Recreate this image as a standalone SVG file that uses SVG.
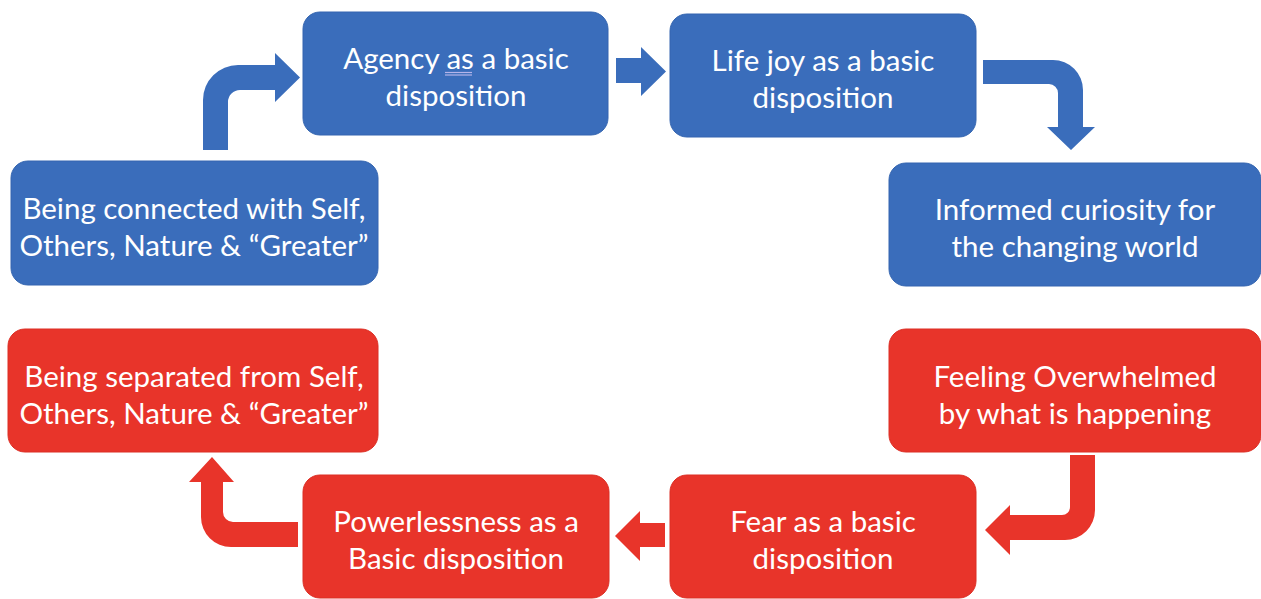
<svg xmlns="http://www.w3.org/2000/svg" width="1261" height="599" viewBox="0 0 1261 599">
<style>
.b{fill:#3a6dbb;stroke:#3465b0;stroke-width:1}
.r{fill:#e8342a;stroke:#dc2e24;stroke-width:1}
.ab{fill:#3a6dbb}
.ar{fill:#e8342a}
.ul{stroke:#b4b4ea;stroke-width:1.2}
text{font-family:Lato,"Open Sans",sans-serif;font-size:29.5px;fill:#ffffff;text-anchor:middle}
</style>
<rect width="1261" height="599" fill="#ffffff"/>
<g id="connectors">
<path class="ab" d="M203,150 L203,100 A35,35 0 0 1 238,65 L275,65 L275,53 L300,77.5 L275,102 L275,90 L240,90 A12,12 0 0 0 228,102 L228,150 Z"/>
<path class="ab" d="M616,58 L641,58 L641,47 L666,71.5 L641,96 L641,83 L616,83 Z"/>
<path class="ab" d="M983,60 L1053,60 A30,30 0 0 1 1083,90 L1083,127 L1095,127 L1071,150 L1047,127 L1058,127 L1058,93 A9,9 0 0 0 1049,84 L983,84 Z"/>
<path class="ar" d="M1070,455 L1095,455 L1095,510 A30,30 0 0 1 1065,540 L1010,540 L1010,555 L985,530 L1010,505 L1010,515 L1062,515 A8,8 0 0 0 1070,507 Z"/>
<path class="ar" d="M665,523 L640,523 L640,511 L615,536 L640,561 L640,547 L665,547 Z"/>
<path class="ar" d="M298,522 L233,522 A10,10 0 0 1 223,512 L223,482 L234,482 L212,457 L189,482 L201,482 L201,517 A30,30 0 0 0 231,547 L298,547 Z"/>
</g>
<g id="agency">
<rect class="b" x="303" y="12" width="305" height="123" rx="17"/>
<text x="456" y="69">Agency as a basic</text>
<line class="ul" x1="445" y1="72.5" x2="472" y2="72.5"/>
<line class="ul" x1="445" y1="75" x2="472" y2="75"/>
<text x="456" y="106">disposition</text>
</g>
<g id="lifejoy">
<rect class="b" x="670" y="14" width="306" height="123" rx="17"/>
<text x="823" y="71">Life joy as a basic</text>
<text x="823" y="108">disposition</text>
</g>
<g id="curiosity">
<rect class="b" x="889" y="163" width="372" height="123" rx="17"/>
<text x="1075" y="220">Informed curiosity for</text>
<text x="1075" y="257">the changing world</text>
</g>
<g id="connected">
<rect class="b" x="11" y="161" width="367" height="124" rx="17"/>
<text x="194" y="219">Being connected with Self,</text>
<text x="194" y="256">Others, Nature &amp; “Greater”</text>
</g>
<g id="separated">
<rect class="r" x="8" y="329" width="370" height="123" rx="17"/>
<text x="194" y="387">Being separated from Self,</text>
<text x="194" y="424">Others, Nature &amp; “Greater”</text>
</g>
<g id="overwhelmed">
<rect class="r" x="889" y="329" width="372" height="123" rx="17"/>
<text x="1075" y="387">Feeling Overwhelmed</text>
<text x="1075" y="424">by what is happening</text>
</g>
<g id="fear">
<rect class="r" x="670" y="475" width="306" height="123" rx="17"/>
<text x="823" y="532">Fear as a basic</text>
<text x="823" y="569">disposition</text>
</g>
<g id="powerlessness">
<rect class="r" x="303" y="475" width="306" height="123" rx="17"/>
<text x="456" y="532">Powerlessness as a</text>
<text x="456" y="569">Basic disposition</text>
</g>
</svg>
